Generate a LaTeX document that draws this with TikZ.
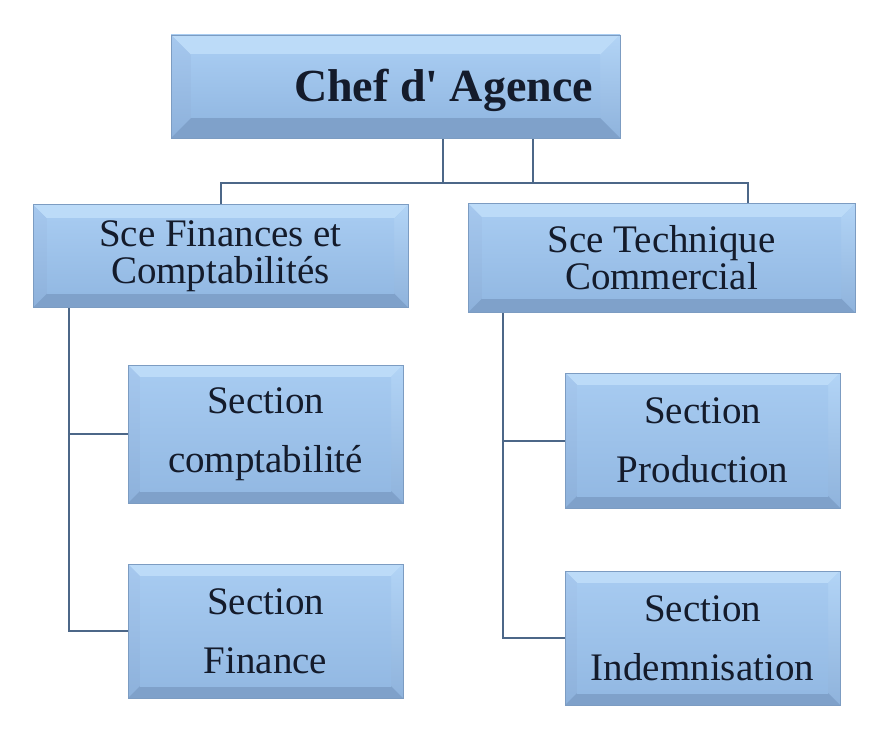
\documentclass[tikz,border=0pt]{standalone}
\usepackage{fontspec}
\setmainfont{Liberation Serif}
\usetikzlibrary{backgrounds}
\definecolor{bevtop}{HTML}{BCDBF8}
\definecolor{bevleftA}{HTML}{A6C8EE}
\definecolor{bevleftB}{HTML}{8DB1DB}
\definecolor{bevbot}{HTML}{7FA1CA}
\definecolor{bevrightA}{HTML}{B2D4F6}
\definecolor{bevrightB}{HTML}{8FB3DC}
\definecolor{faceA}{HTML}{A6CAF0}
\definecolor{faceB}{HTML}{93B9E3}
\definecolor{boxedge}{HTML}{7C9CC2}
\definecolor{connc}{HTML}{4C6788}
\definecolor{txt}{HTML}{141B2B}
\newcommand\bevelfill[1]{%
  \path (path picture bounding box.north west) coordinate (bNW)
        (path picture bounding box.north east) coordinate (bNE)
        (path picture bounding box.south west) coordinate (bSW)
        (path picture bounding box.south east) coordinate (bSE);
  \path ([shift={(#1pt,-#1pt)}]bNW) coordinate (iNW)
        ([shift={(-#1pt,-#1pt)}]bNE) coordinate (iNE)
        ([shift={(#1pt,#1pt)}]bSW) coordinate (iSW)
        ([shift={(-#1pt,#1pt)}]bSE) coordinate (iSE);
  \shade[top color=faceA,bottom color=faceB] (bNW) rectangle (bSE);
  \fill[bevtop] (bNW) -- (bNE) -- (iNE) -- (iNW) -- cycle;
  \shade[top color=bevleftA,bottom color=bevleftB] (bNW) -- (iNW) -- (iSW) -- (bSW) -- cycle;
  \shade[top color=bevrightA,bottom color=bevrightB] (bNE) -- (iNE) -- (iSE) -- (bSE) -- cycle;
  \fill[bevbot] (bSW) -- (iSW) -- (iSE) -- (bSE) -- cycle;
  \shade[top color=faceA,bottom color=faceB] (iNW) rectangle (iSE);
}
\tikzset{
  bevelbox/.style={rectangle, inner sep=0pt, draw=boxedge, line width=0.8pt,
    text=txt, align=center, path picture={\bevelfill{#1}}},
  bevelbox/.default=12,
  conn/.style={draw=connc, line width=2pt},
  headfont/.style={font=\fontsize{46}{50}\selectfont\bfseries},
  scefont/.style={font=\fontsize{39}{37}\selectfont},
  secfont/.style={font=\fontsize{39}{59}\selectfont},
}
\begin{document}
\begin{tikzpicture}[x=1pt,y=-1pt]
\useasboundingbox (0,0) rectangle (874,738);
% boxes
\node[bevelbox=20, headfont, minimum width=449pt, minimum height=103pt,
      text height=31pt, text depth=0pt] (chef) at (395.5,86.5) {\hspace*{96pt}Chef d\textquotesingle{} Agence};
\node[bevelbox=14, scefont, minimum width=375pt, minimum height=103pt] (fin) at (220.5,256)
  {Sce Finances et\\Comptabilités};
\node[bevelbox=14, scefont, minimum width=387pt, minimum height=109pt] (tech) at (661.5,258)
  {Sce Technique\\Commercial};
\node[bevelbox, secfont, minimum width=275pt, minimum height=138pt] (comp) at (265.5,434)
  {Section\\comptabilité};
\node[bevelbox, secfont, minimum width=275pt, minimum height=134pt] (sfin) at (265.5,631)
  {Section\\Finance};
\node[bevelbox, secfont, minimum width=275pt, minimum height=135pt] (prod) at (702.5,440.5)
  {Section\\Production};
\node[bevelbox, secfont, minimum width=275pt, minimum height=134pt] (indem) at (702.5,638)
  {Section\\Indemnisation};
% connectors
\coordinate (c1) at (443,183);
\coordinate (c2) at (533,183);
\coordinate (cl) at (221,183);
\coordinate (cr) at (748,183);
\coordinate (lx) at (69,0);
\coordinate (rx) at (503,0);
\begin{scope}[on background layer]
\fill[white] (0,0) rectangle (874,738);
\draw[conn] (c1 |- chef.south) -- (c1);
\draw[conn] (c2 |- chef.south) -- (c2);
\draw[conn] (cl |- fin.north) -- (cl) -- (cr) -- (cr |- tech.north);
\draw[conn] (lx |- fin.south) |- (sfin.west);
\draw[conn] (lx |- comp.west) -- (comp.west);
\draw[conn] (rx |- tech.south) |- (indem.west);
\draw[conn] (rx |- prod.west) -- (prod.west);
\end{scope}
\end{tikzpicture}
\end{document}
